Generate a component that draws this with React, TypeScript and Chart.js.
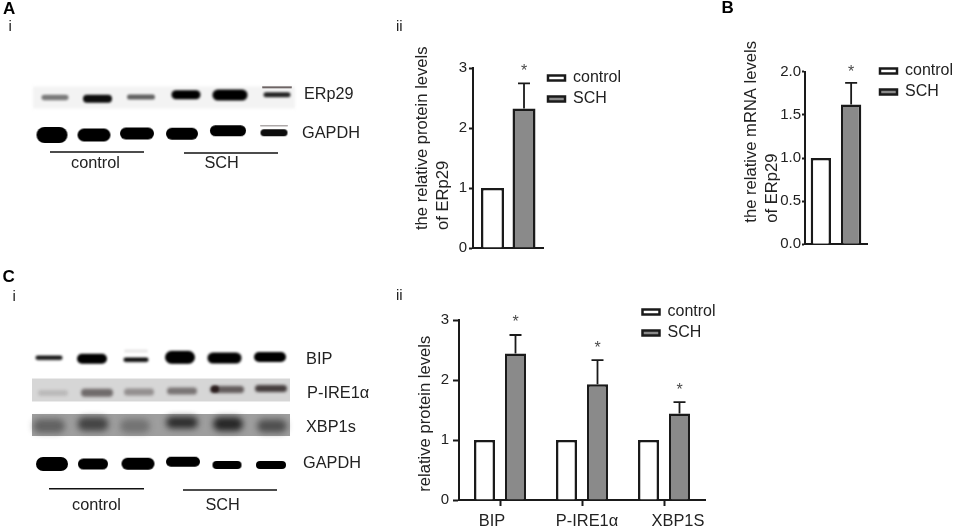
import React, { useEffect, useRef } from "react";
import { Chart, registerables } from "chart.js";

Chart.register(...registerables);

// ---------- data ----------
const groupLabels = ["control", "SCH"];
const erp29Protein = [1, 2.33];
const erp29ProteinErr = [0, 0.42];
const erp29Mrna = [1, 1.62];
const erp29MrnaErr = [0, 0.25];
const upbCategories = ["BIP", "P-IRE1α", "XBP1S"];
const upbControl = [1, 1, 1];
const upbSch = [2.44, 1.93, 1.44];
const upbSchErr = [0.31, 0.4, 0.19];

const erp29Band = [0.5, 0.95, 0.6, 1, 1, 0.85];
const gapdhBandA = [1, 1, 1, 1, 1, 0.95];
const bipBand = [0.9, 1, 0.95, 1, 1, 1];
const pIreBand = [0.14, 0.55, 0.36, 0.5, 0.62, 0.78];
const xbpBand = [0.45, 0.68, 0.32, 0.85, 0.9, 0.6];
const gapdhBandC = [1, 1, 1, 1, 1, 1];

// ---------- style / layout ----------
const FONT = '"Liberation Sans", Arial, sans-serif';
const INK = "#1a1a1a";
const TEXT = "#222222";
const GREY = "#8a8a8a";

const rowLayouts = [
  { v: erp29Band, x: [55, 97.5, 141, 186, 230, 277], y: [97.7, 98.7, 97, 94.7, 95, 94.7], w: [27, 29, 28, 29, 35, 27], h: [5.5, 8, 5, 9, 11, 5], blur: 1, ink: "0,0,0" },
  { v: gapdhBandA, x: [52, 94, 137, 182, 228, 274], y: [135, 135, 133.5, 133.7, 130.7, 132.7], w: [31, 33, 34, 32, 36, 27], h: [16, 13, 12, 12, 11, 7], blur: 0.7, ink: "0,0,0" },
  { v: bipBand, x: [49, 92, 136, 180, 224.5, 270], y: [358, 358.7, 360, 357.3, 358, 357], w: [27, 30, 25, 30, 34, 32], h: [4.5, 10, 4.5, 13, 11, 10], blur: 0.8, ink: "0,0,0" },
  { v: pIreBand, x: [53, 97, 139, 182, 227, 271], y: [393, 392.7, 392, 391, 389.5, 388.5], w: [30, 32, 30, 30, 34, 32], h: [6, 8, 7, 7, 7, 7], blur: 1.6, ink: "30,20,20" },
  { v: xbpBand, x: [49, 93, 135, 182, 228, 272], y: [426, 424, 426, 422.5, 424, 426], w: [32, 31, 30, 32, 30, 30], h: [14, 14, 14, 12, 14, 13], blur: 3, ink: "25,25,25" },
  { v: gapdhBandC, x: [52, 93, 138, 183, 227, 271], y: [464, 464, 463.7, 461.7, 465, 465], w: [32, 30, 33, 34, 29, 30], h: [14, 11, 12, 10, 8, 8], blur: 0.7, ink: "0,0,0" },
];
const extraBands = [
  { x: 277, y: 87.5, w: 30, h: 1.5, a: 0.8, blur: 0.5 },
  { x: 274, y: 126, w: 28, h: 1.5, a: 0.35, blur: 0.5 },
  { x: 136, y: 351, w: 24, h: 3, a: 0.1, blur: 1.2 },
  { x: 215, y: 389, w: 8, h: 7, a: 0.75, blur: 1.2 },
];
const panels = [
  { x: 164, y: 97.5, w: 262, h: 22, shade: "rgba(243,243,243,1)", blur: 1.5 },
  { x: 161, y: 390, w: 258, h: 23, shade: "rgba(214,214,214,1)", blur: 0.4 },
  { x: 161, y: 425, w: 258, h: 22, shade: "rgba(158,158,158,1)", blur: 0.4 },
];
const lanePairs = [
  [50, 152, 144, 152], [184, 153, 278, 153],
  [49, 488.7, 144, 488.7], [183, 490, 277, 490],
];

const pageTexts = [
  { t: "A", x: 3, y: 9.5, f: `bold 17px ${FONT}`, c: "#000" },
  { t: "i", x: 8.5, y: 27, f: `15px ${FONT}`, c: TEXT },
  { t: "ii", x: 396, y: 27, f: `15px ${FONT}`, c: TEXT },
  { t: "B", x: 721.5, y: 8.5, f: `bold 17px ${FONT}`, c: "#000" },
  { t: "C", x: 2.5, y: 277, f: `bold 17px ${FONT}`, c: "#000" },
  { t: "i", x: 12.5, y: 297, f: `15px ${FONT}`, c: TEXT },
  { t: "ii", x: 396, y: 296, f: `15px ${FONT}`, c: TEXT },
  { t: "ERp29", x: 304, y: 95, f: `16.2px ${FONT}`, c: TEXT },
  { t: "GAPDH", x: 302, y: 133.5, f: `16.3px ${FONT}`, c: TEXT },
  { t: "control", x: 71, y: 164, f: `16.3px ${FONT}`, c: TEXT },
  { t: "SCH", x: 204.5, y: 164, f: `16.3px ${FONT}`, c: TEXT },
  { t: "BIP", x: 306, y: 359.5, f: `16.4px ${FONT}`, c: TEXT },
  { t: "P-IRE1α", x: 307, y: 393.5, f: `16.4px ${FONT}`, c: TEXT },
  { t: "XBP1s", x: 306, y: 427.5, f: `16.3px ${FONT}`, c: TEXT },
  { t: "GAPDH", x: 303, y: 464, f: `16.3px ${FONT}`, c: TEXT },
  { t: "control", x: 72, y: 506, f: `16.3px ${FONT}`, c: TEXT },
  { t: "SCH", x: 205.5, y: 506, f: `16.3px ${FONT}`, c: TEXT },
];

// ---------- helpers ----------
function bandImage(w: number, h: number, fill: string, blur: number, round: boolean) {
  const pad = Math.ceil(blur * 3) + 2;
  const c = document.createElement("canvas");
  c.width = Math.ceil(w + pad * 2);
  c.height = Math.ceil(h + pad * 2);
  const ctx = c.getContext("2d")!;
  ctx.filter = `blur(${blur}px)`;
  ctx.fillStyle = fill;
  ctx.beginPath();
  if (round) ctx.roundRect(pad, pad, w, h, h / 2);
  else ctx.rect(pad, pad, w, h);
  ctx.fill();
  return c;
}

const textPlugin = {
  id: "pageText",
  afterDraw(chart: any) {
    const items = chart.options.plugins.pageText?.items || [];
    const ctx = chart.ctx;
    ctx.save();
    ctx.textBaseline = "middle";
    ctx.textAlign = "left";
    for (const it of items) {
      ctx.font = it.f;
      ctx.fillStyle = it.c;
      ctx.fillText(it.t, it.x, it.y);
    }
    ctx.restore();
  },
};

const errorPlugin = {
  id: "errorMarks",
  afterDatasetsDraw(chart: any) {
    const o = chart.options.plugins.errorMarks;
    if (!o) return;
    const ctx = chart.ctx;
    const yS = chart.scales.y;
    const xS = chart.scales.x;
    ctx.save();
    chart.data.datasets.forEach((ds: any, di: number) => {
      if (!ds.errors) return;
      chart.getDatasetMeta(di).data.forEach((el: any, i: number) => {
        const e = ds.errors[i];
        if (!e) return;
        const top = yS.getPixelForValue(ds.data[i] + e);
        ctx.strokeStyle = INK;
        ctx.lineWidth = 1.8;
        ctx.beginPath();
        ctx.moveTo(el.x, yS.getPixelForValue(ds.data[i]));
        ctx.lineTo(el.x, top);
        ctx.moveTo(el.x - o.cap / 2, top);
        ctx.lineTo(el.x + o.cap / 2, top);
        ctx.stroke();
        ctx.fillStyle = "#4a4a4a";
        ctx.font = `16px ${FONT}`;
        ctx.textAlign = "center";
        ctx.textBaseline = "middle";
        ctx.fillText("*", el.x, top - o.star);
      });
    });
    // y-axis title lines
    ctx.fillStyle = TEXT;
    ctx.font = `16.6px ${FONT}`;
    ctx.textAlign = "left";
    ctx.textBaseline = "middle";
    o.title.forEach((line: string, i: number) => {
      ctx.save();
      ctx.translate(o.titleX[i], o.titleBottom);
      ctx.rotate(-Math.PI / 2);
      ctx.fillText(line, 0, 0);
      ctx.restore();
    });
    // category labels, which sit off-centre from their ticks in the source
    if (o.xLabelShift) {
      ctx.font = `16.4px ${FONT}`;
      ctx.textAlign = "center";
      xS.getLabels().forEach((lab: string, i: number) => {
        ctx.fillText(lab, xS.getPixelForValue(i) + o.xLabelShift[i], o.xLabelY);
      });
    }
    ctx.restore();
  },
};

const legendPlacer = {
  id: "legendPlacer",
  afterLayout(chart: any) {
    const o = chart.options.plugins.legendPlacer;
    const lg = chart.legend;
    if (!o || !lg) return;
    const w = lg.width;
    const h = lg.height;
    lg.left = o.x;
    lg.top = o.y;
    lg.right = o.x + 120;
    lg.bottom = o.y + Math.max(h, 60);
    lg.width = Math.max(w, 120);
  },
};

function barConfig(p: any) {
  return {
    type: "bar",
    data: {
      labels: p.labels,
      datasets: [
        { label: groupLabels[0], data: p.control, backgroundColor: "#ffffff", borderColor: INK, borderWidth: 2.5, categoryPercentage: p.cat, barPercentage: p.bar, borderSkipped: "bottom" },
        { label: groupLabels[1], data: p.sch, errors: p.err, backgroundColor: GREY, borderColor: INK, borderWidth: 2.5, categoryPercentage: p.cat, barPercentage: p.bar, borderSkipped: "bottom" },
      ],
    },
    options: {
      responsive: false,
      animation: false,
      devicePixelRatio: 1,
      layout: {
        padding: { left: p.l - 40, top: p.t, right: 957 - p.r, bottom: 530 - p.b - 20 },
      },
      scales: {
        x: {
          afterFit: (s: any) => { s.height = 20; },
          grid: { display: p.xTicks, drawOnChartArea: false, drawTicks: p.xTicks, tickLength: 6, tickWidth: 2, tickColor: INK, offset: false },
          border: { color: INK, width: 2 },
          ticks: { display: false },
        },
        y: {
          min: 0,
          max: p.max,
          afterFit: (s: any) => { s.width = 40; },
          grid: { drawOnChartArea: false, drawTicks: true, tickLength: p.tickLen, tickWidth: 2, tickColor: INK },
          border: { color: INK, width: 2 },
          ticks: {
            stepSize: p.step,
            padding: p.tickPad,
            color: TEXT,
            font: { family: FONT, size: p.tickFont },
            callback: p.fmt,
          },
        },
      },
      plugins: {
        title: { display: false },
        tooltip: { enabled: false },
        legend: {
          display: true,
          position: "chartArea",
          align: "start",
          labels: {
            boxWidth: 17,
            boxHeight: 5,
            padding: 5,
            color: TEXT,
            font: { family: FONT, size: 16 },
          },
        },
        legendPlacer: { x: p.legX, y: p.legY },
        errorMarks: {
          cap: 12,
          star: p.star,
          title: p.title,
          titleX: p.titleX,
          titleBottom: p.titleBottom,
          xLabelShift: p.xLabelShift,
          xLabelY: p.xLabelY,
        },
      },
    },
    plugins: [legendPlacer, errorPlugin],
  } as any;
}

function blotConfig() {
  const bandSets = rowLayouts.map((r) => ({
    type: "scatter",
    data: r.v.map((_, i) => ({ x: r.x[i], y: r.y[i] })),
    pointRadius: 5,
    pointStyle: r.v.map((a, i) => bandImage(r.w[i], r.h[i], `rgba(${r.ink},${a})`, r.blur, true)),
    showLine: false,
    order: 2,
  }));
  const extraSet = {
    type: "scatter",
    data: extraBands.map((b) => ({ x: b.x, y: b.y })),
    pointRadius: 5,
    pointStyle: extraBands.map((b) => bandImage(b.w, b.h, `rgba(20,5,5,${b.a})`, b.blur, true)),
    showLine: false,
    order: 1,
  };
  const panelSet = {
    type: "scatter",
    data: panels.map((b) => ({ x: b.x, y: b.y })),
    pointRadius: 5,
    pointStyle: panels.map((b) => bandImage(b.w, b.h, b.shade, b.blur, false)),
    showLine: false,
    order: 3,
  };
  const lineSets = lanePairs.map((l) => ({
    type: "scatter",
    data: [{ x: l[0], y: l[1] }, { x: l[2], y: l[3] }],
    showLine: true,
    pointRadius: 0,
    borderColor: "#111",
    borderWidth: 1.5,
    order: 0,
  }));
  return {
    type: "scatter",
    data: { datasets: [...lineSets, extraSet, ...bandSets, panelSet] },
    options: {
      responsive: false,
      animation: false,
      devicePixelRatio: 1,
      layout: { padding: 0, autoPadding: false },
      scales: {
        x: { type: "linear", display: false, min: 0, max: 957 },
        y: { type: "linear", display: false, min: 0, max: 530, reverse: true },
      },
      plugins: {
        legend: { display: false },
        tooltip: { enabled: false },
        pageText: { items: pageTexts },
      },
    },
    plugins: [textPlugin],
  } as any;
}

const tick1 = (v: any) => String(v);
const tick2 = (v: any) => Number(v).toFixed(1);

const chartParams = [
  {
    labels: [""], control: [erp29Protein[0]], sch: [erp29Protein[1]], err: [erp29ProteinErr[1]],
    l: 473, r: 543.5, t: 68.3, b: 248, max: 3, step: 1, cat: 0.894, bar: 0.73, xTicks: false,
    tickLen: 4, tickPad: 2, tickFont: 15, fmt: tick1, legX: 543, legY: 65, star: 12,
    title: ["the relative protein levels", "of ERp29"], titleX: [422.7, 443.5], titleBottom: 230,
  },
  {
    labels: [""], control: [erp29Mrna[0]], sch: [erp29Mrna[1]], err: [erp29MrnaErr[1]],
    l: 805, r: 867, t: 71.7, b: 244.3, max: 2, step: 0.5, cat: 0.977, bar: 0.67, xTicks: false,
    tickLen: 3, tickPad: 1, tickFont: 15, fmt: tick2, legX: 875, legY: 58, star: 10,
    title: ["the relative mRNA levels", "of ERp29"], titleX: [751, 772], titleBottom: 222.7,
  },
  {
    labels: upbCategories, control: upbControl, sch: upbSch, err: upbSchErr,
    l: 459, r: 705, t: 320, b: 500, max: 3, step: 1, cat: 0.756, bar: 0.677, xTicks: true,
    tickLen: 6, tickPad: 4, tickFont: 15, fmt: tick1, legX: 637.5, legY: 299, star: 12,
    title: ["relative protein levels"], titleX: [425], titleBottom: 491.7,
    xLabelShift: [-8, 5, 14], xLabelY: 521,
  },
];

export default function App() {
  const blotRef = useRef<HTMLCanvasElement>(null);
  const aRef = useRef<HTMLCanvasElement>(null);
  const bRef = useRef<HTMLCanvasElement>(null);
  const cRef = useRef<HTMLCanvasElement>(null);

  useEffect(() => {
    const charts = [
      new Chart(blotRef.current!, blotConfig()),
      new Chart(aRef.current!, barConfig(chartParams[0])),
      new Chart(bRef.current!, barConfig(chartParams[1])),
      new Chart(cRef.current!, barConfig(chartParams[2])),
    ];
    return () => charts.forEach((c) => c.destroy());
  }, []);

  const st: React.CSSProperties = { position: "absolute", left: 0, top: 0 };
  return (
    <div style={{ position: "absolute", left: 0, top: 0, width: 957, height: 530, background: "#fff", overflow: "hidden" }}>
      <canvas ref={blotRef} width={957} height={530} style={st} />
      <canvas ref={aRef} width={957} height={530} style={st} />
      <canvas ref={bRef} width={957} height={530} style={st} />
      <canvas ref={cRef} width={957} height={530} style={st} />
    </div>
  );
}
